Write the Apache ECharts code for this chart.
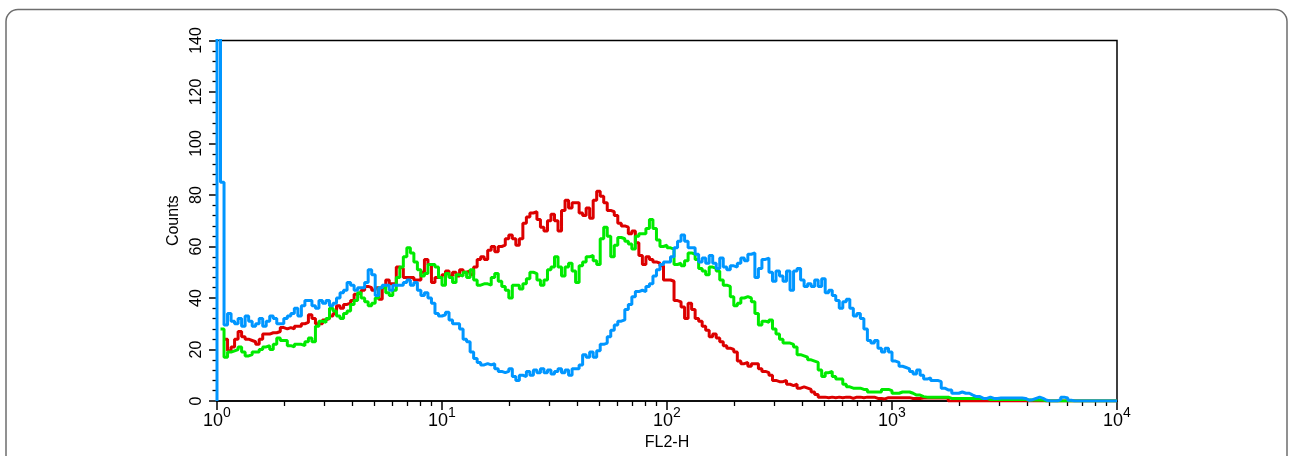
<!DOCTYPE html>
<html>
<head>
<meta charset="utf-8">
<script src="https://cdn.jsdelivr.net/npm/echarts@6/dist/echarts.min.js"></script>
<style>
html,body{margin:0;padding:0;background:#fff;}
#chart{width:1290px;height:456px;}
</style>
</head>
<body>
<div id="chart"></div>
<script>
// ---- data ----
const channelsPerDecade = 64;          // 256 log channels over 4 decades
const xMin = 1, xMax = 10000;
const xAxisTitle = 'FL2-H';
const yAxisTitle = 'Counts';
const yMin = 0, yMax = 140, yStep = 20;

const redCounts = [
null,null,24,19.5,21,24,27,25,24,23.5,
23,22,24,26,26,26.5,26.5,27,28.5,28,
28.5,28,29,29,30,30.5,33.5,32,30,30,
31.5,32,33,34,37,36,37.5,38,39,41.5,
42,43,44.5,44,43,44,39.5,44,47,45.5,
45.5,52,51.5,48,48,48,47,47,50,55,
53,46,48,48,
49,50.5,48.5,50,48.5,51,50,50.5,49,52,
55,56,55,58.5,60,58,60,60.5,63,64.5,
63,60.5,63,69,71.5,73,73.5,70.5,67.5,66,
70,72.5,70,66,74,78,75,77,77,73,
72,75,71,78,81.5,79.5,77,74,73.5,72,
69,68,67.5,65,66,61.5,56.5,53,56,55,
54,53.5,52.5,47,
47,46.5,39,38.5,36.5,32,38,35.5,32,31,
29,27.5,25,26,24.5,23,21.5,20.5,20,19,
15.5,14.5,15,13.5,14.5,14.5,12.5,11.5,11,10,
8,7.5,7.5,8,6.5,6,6.5,5,5.5,5,
4.5,3.5,2.5,1.5,1.5,1.3,1.5,1.3,1.5,1.3,
1.5,1.5,1,1.5,1.5,1.3,1.5,1.5,1.5,1,
1,0.8,
1.3,1.3,1.3,1.3,1.3,1.3,1.3,1,1,1,
1.2,1.2,1.2,1.2,1.2,1.2,1.2,1.2,0,0,
0,0,0,0,0,0,0,0,0,0,
0,0,0,0,0,0,0,0,0,0,
0,0,0,0,0,0,0,0,0,0,
0,0,0,0,0,0,0,0,0,0,
0,0,0,0,0,0
];

const greenCounts = [
null,28,17,19,19.5,20,21,19,17.5,18,
19,19,20,21,21.5,20,22,24.5,23.5,23.5,
21.5,21,22,22,21.5,23,24.5,23,29,31,
30.5,32,36,35,33,32,34,35,37.5,39,
42,40,38.5,37,38,40,44,44.5,42,41,
43,48,52,56,59.5,57.5,54,51,48.5,49.5,
53,53,52,48,
45,49.5,48,46,49,48.5,50,48,51,47,
45,45.5,45.5,45,48,49.5,46.5,44.5,43,40,
45,45,43.5,45.5,47.5,50,49.5,47,45,47,
51,52,56,52,48.5,52,53.5,50.5,46,52.5,
54,56,56.5,54.5,53,63,67.5,64,56,60.5,
63.5,63,62,61,59,64,65,65,67,70.5,
67,62.5,60,60.5,
59.5,59,53,53.5,52.5,54.5,57.5,57,55,51.5,
50.5,49,52,51.5,50.5,47,45,44.5,40.5,37,
38,40,40.5,40,38.5,34,29.5,31,30.5,31.5,
28,26,24,22.5,22.5,22,21,18,17.5,17,
16,15.5,15,12,9.5,11,11.5,9.5,8.5,8.5,
6.5,5.5,5,5,5,4.5,4.5,3.5,3.5,3.5,
3.5,4.5,
4.5,4,3,3,3.5,3.5,3.5,3,2.3,2.3,
1.7,1.5,1.5,1.5,1.5,1.5,1.5,1.5,1,1,
1,1,1,1,1,1,1,1,1,0.6,
0.6,0.6,0.6,0.6,0.6,0.6,0.6,0.6,0.6,0.6,
0.4,0.4,0.4,0.4,0.4,0,0,0,0,0,
0,0,0,0,0,0,0,0,0,0,
0,0,0,0,0,0
];

const blueCounts = [
160,85,29.5,34,31,30,32,29,33,31,
29,30,32,29,31,33,32,30,30,32,
33,34,36,33,37,39,39,37,36,39,
38,39,37,38,40,42,43,46,45,43,
44,44,46,51,49,41,44,45,45,43,
45,45,45,46,47,45,46,43,41,42,
40,38,34,33,
33.5,34.5,31.5,30,30,28,24,23,19,16.5,
15,14,14.5,14,14.5,12.5,11.5,11,11.5,12.5,
9.5,8,10,9.5,11.5,10,12,11,12.5,11,
12,10.5,11.5,12.5,11,12,10,12.5,12.5,14,
18,17,19,17,19.5,22,22.5,25,27.5,29.5,
31,31.5,35.5,37.5,40.5,42.5,43,42.5,44.5,45.5,
48.5,51,53,54,
54,56,59.5,62,64.5,62,59.5,59.5,57,54,
55.5,53.5,56.5,53.5,51.5,55.5,52,51,52.5,52,
53.5,55.5,54.5,57,57.5,48,51.5,55,55.5,50,
46.5,50.5,48.5,46.5,50.5,43,50.5,51.5,47,44.5,
45.5,44.5,47,44.5,47.5,42,43,41,39,36,
38.5,39.5,36,33,34,32,28,23.5,22.5,23.5,
20.5,19,
20.5,19,15.5,15,13.5,13,12.5,11.5,10.5,12,
10,8.5,9,8,8,7.5,5,4.3,4.3,3,
3,3.5,3,3,2.3,1.7,1.7,1,1,1.5,
1,1,1.2,1.2,1.2,1.2,1.2,1.2,1.2,1,
0.3,0.5,1,1.5,1,0.3,0,0,0,0.5,
1.5,1.2,0.3,0,0,0,0,0,0,0,
0,0,0,0,0,0
];

const seriesDefs = [
  { name: 'red',   counts: redCounts,   color: '#dc0000' },
  { name: 'green', counts: greenCounts, color: '#00ea00' },
  { name: 'blue',  counts: blueCounts,  color: '#0096ff' }
];

// build [x, y] pairs: each channel's lower edge on the log scale
function buildData(counts) {
  const d = [[xMin, 0]];
  counts.forEach(function (v, i) {
    d.push([Math.pow(10, i / channelsPerDecade), v]);
  });
  d.push([xMax, counts[counts.length - 1]]);
  return d;
}

const FONT = 'Liberation Sans';
const chart = echarts.init(document.getElementById('chart'), null, { renderer: 'canvas' });

const option = {
  animation: false,
  backgroundColor: '#fff',
  graphic: [{
    type: 'rect', silent: true, z: -10,
    shape: { x: 6, y: 9.5, width: 1281, height: 520, r: 12 },
    style: { fill: 'none', stroke: '#6e6e6e', lineWidth: 1.5 }
  }],
  grid: {
    left: 217, top: 40.5, width: 900, height: 366,
    show: true, borderColor: '#000', borderWidth: 1.5, backgroundColor: 'transparent'
  },
  xAxis: {
    type: 'log', logBase: 10, min: xMin, max: xMax,
    name: xAxisTitle, nameLocation: 'middle', nameGap: 34,
    nameTextStyle: { fontFamily: FONT, fontSize: 16, color: '#000' },
    axisLine: { show: true, onZero: false, lineStyle: { color: '#000', width: 1.5 } },
    axisTick: { show: true, length: 9, lineStyle: { color: '#000', width: 1.5 } },
    minorTick: { show: true, splitNumber: 9, length: 5, lineStyle: { color: '#000', width: 1.3 } },
    splitLine: { show: false }, minorSplitLine: { show: false },
    axisLabel: {
      margin: 9,
      formatter: function (v) { return '{b|10}{s|' + Math.round(Math.log10(v)) + '}'; },
      rich: {
        b: { fontFamily: FONT, fontSize: 18, color: '#000', lineHeight: 20, verticalAlign: 'bottom' },
        s: { fontFamily: FONT, fontSize: 14, color: '#000', lineHeight: 14, padding: [0, 0, 10, 0], verticalAlign: 'bottom' }
      }
    }
  },
  yAxis: {
    type: 'value', min: yMin, max: yMax, interval: yStep,
    name: yAxisTitle, nameLocation: 'middle', nameGap: 29, nameRotate: 90,
    nameTextStyle: { fontFamily: FONT, fontSize: 16, color: '#000' },
    axisLine: { show: true, lineStyle: { color: '#000', width: 1.5 } },
    axisTick: { show: true, length: 8, lineStyle: { color: '#000', width: 1.5 } },
    minorTick: { show: true, splitNumber: 5, length: 4.5, lineStyle: { color: '#000', width: 1.3 } },
    splitLine: { show: false }, minorSplitLine: { show: false },
    axisLabel: { rotate: 90, margin: 12, fontFamily: FONT, fontSize: 16, color: '#000' }
  },
  series: seriesDefs.map(function (s) {
    return {
      name: s.name, type: 'line', step: 'end',
      data: buildData(s.counts),
      showSymbol: false, symbol: 'none', silent: true, clip: true,
      lineStyle: { color: s.color, width: 3 }
    };
  })
};
chart.setOption(option);
</script>
</body>
</html>
